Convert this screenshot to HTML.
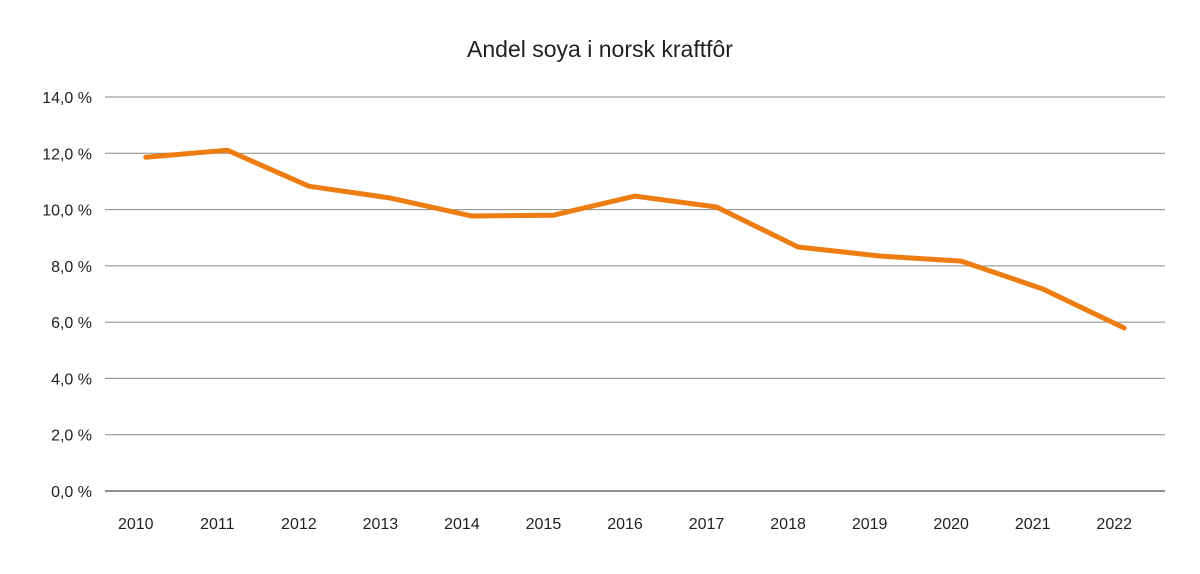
<!DOCTYPE html>
<html><head><meta charset="utf-8"><style>
body{margin:0;background:#fff;}
svg text{font-family:"Liberation Sans",sans-serif;fill:#231f20;}
</style></head><body>
<svg id="chart" width="1200" height="569">
<text x="600" y="57" text-anchor="middle" font-size="23">Andel soya i norsk kraftfôr</text>
<g id="grid"></g><g id="xaxis"></g><g id="series"></g>
</svg>
<script>
const categories=["2010","2011","2012","2013","2014","2015","2016","2017","2018","2019","2020","2021","2022"];
const values=[11.86,12.11,10.83,10.41,9.77,9.80,10.48,10.09,8.67,8.35,8.17,7.18,5.79];
const yTicks=[0,2,4,6,8,10,12,14];
const yTickLabels=["0,0 %","2,0 %","4,0 %","6,0 %","8,0 %","10,0 %","12,0 %","14,0 %"];
const NS="http://www.w3.org/2000/svg";
const x0=105,x1=1165,yBase=491,yTop=97;
const bw=(x1-x0)/categories.length;
const xs=i=>x0+bw*(i+0.5);
const ys=v=>yBase-(v/14)*(yBase-yTop);
function mk(t,a,p){const e=document.createElementNS(NS,t);for(const k in a)e.setAttribute(k,a[k]);p.appendChild(e);return e;}
const grid=document.getElementById('grid');
yTicks.forEach((t,i)=>{
 const l=mk('line',{x1:x0,x2:x1,y1:ys(t),y2:ys(t),stroke:i===0?'#231f20':'#8a8a8a','stroke-width':1},grid);
 
 
 const tx=mk('text',{x:92,y:ys(t)+6,'text-anchor':'end','font-size':16},grid);
 tx.textContent=yTickLabels[i];
 
 
});
const xa=document.getElementById('xaxis');
categories.forEach((c,i)=>{
 const tx=mk('text',{x:xs(i)-10,y:529,'text-anchor':'middle','font-size':16},xa);
 tx.textContent=c;
 
 
});
const s=document.getElementById('series');
const p=mk('polyline',{points:values.map((v,i)=>xs(i)+','+ys(v)).join(' '),fill:'none',stroke:'#ee7d11','stroke-width':5,'stroke-linejoin':'round','stroke-linecap':'round'},s);


</script>
</body></html>
